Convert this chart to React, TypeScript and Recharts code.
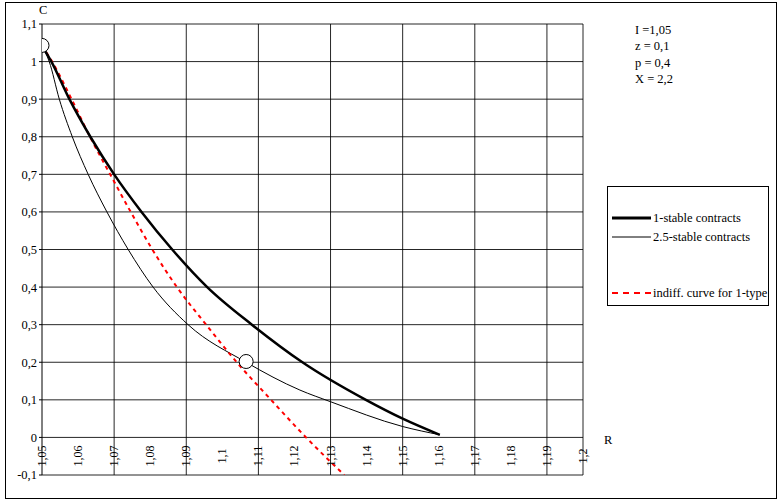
import React from 'react';
import { ComposedChart, Line, Scatter, XAxis, YAxis, CartesianGrid, ReferenceLine, Legend } from 'recharts';

// 1-stable contracts (thick)
const rThick = [1.05, 1.0526, 1.0576, 1.0634, 1.07, 1.0776, 1.0861, 1.0958, 1.1082, 1.1222, 1.1398, 1.15, 1.1603];
const cThick = [1.042, 1.0, 0.9, 0.8, 0.7, 0.6, 0.5, 0.4, 0.3, 0.2, 0.1, 0.05, 0.007];

// 2.5-stable contracts (thin)
const rThin = [1.05, 1.052, 1.0548, 1.0584, 1.0628, 1.068, 1.0739, 1.0808, 1.0905, 1.1066, 1.1215, 1.13, 1.15, 1.1603];
const cThin = [1.042, 1.0, 0.9, 0.8, 0.7, 0.6, 0.5, 0.4, 0.3, 0.2, 0.126, 0.095, 0.029, 0.007];

// indifference curve for 1-type (red dashed)
const rIndiff = [1.05, 1.0528, 1.0582, 1.0633, 1.0689, 1.0746, 1.0806, 1.0874, 1.0955, 1.104, 1.1135, 1.1232, 1.1338];
const cIndiff = [1.042, 1.0, 0.9, 0.8, 0.7, 0.6, 0.5, 0.4, 0.3, 0.2, 0.1, 0.0, -0.1];

// hollow circle markers
const rMarkers = [1.05, 1.1066];
const cMarkers = [1.043, 0.202];

const xTicks = [1.05, 1.06, 1.07, 1.08, 1.09, 1.1, 1.11, 1.12, 1.13, 1.14, 1.15, 1.16, 1.17, 1.18, 1.19, 1.2];
const yTicks = [-0.1, 0, 0.1, 0.2, 0.3, 0.4, 0.5, 0.6, 0.7, 0.8, 0.9, 1.0, 1.1];
const xGrid = [1.07, 1.09, 1.11, 1.13, 1.15, 1.17, 1.19, 1.2];

const paramLines = ['I =1,05', 'z = 0,1', 'p = 0,4', 'X = 2,2'];

const thickData = rThick.map((r, i) => ({ r, c: cThick[i] }));
const thinData = rThin.map((r, i) => ({ r, c: cThin[i] }));
const indiffData = rIndiff.map((r, i) => ({ r, c: cIndiff[i] }));
const markerData = rMarkers.map((r, i) => ({ r, c: cMarkers[i] }));

const FONT = 'Liberation Serif';

const fmt = (v: number) => String(Number(v.toFixed(2))).replace('.', ',');

const XTick = (props: any) => {
  const { x, y, payload } = props;
  const cy = y - 19;
  return (
    <text
      x={x}
      y={cy}
      transform={`rotate(-90, ${x}, ${cy})`}
      textAnchor="middle"
      dominantBaseline="central"
      fontSize={12}
      fontFamily={FONT}
      fill="#000"
    >
      {fmt(payload.value)}
    </text>
  );
};

const MarkerShape = (props: any) => (
  <circle cx={props.cx} cy={props.cy} r={7} fill="#fff" stroke="#000" strokeWidth={1} />
);

const LegendBox = () => (
  <div
    style={{
      width: 160,
      height: 118,
      border: '1px solid #000',
      background: '#fff',
      position: 'relative',
      boxSizing: 'content-box',
    }}
  >
    <svg width={160} height={118} style={{ position: 'absolute', left: 0, top: 0 }}>
      <line x1={4} x2={43} y1={31} y2={31} stroke="#000" strokeWidth={3} />
      <line x1={4} x2={43} y1={50} y2={50} stroke="#000" strokeWidth={1} />
      <line x1={4} x2={43} y1={106} y2={106} stroke="#ff0000" strokeWidth={2} strokeDasharray="6 5" />
      <text x={45} y={31} dominantBaseline="central" fontSize={12.5} fontFamily={FONT} fill="#000">1-stable contracts</text>
      <text x={45} y={50} dominantBaseline="central" fontSize={12.5} fontFamily={FONT} fill="#000">2.5-stable contracts</text>
      <text x={45} y={106} dominantBaseline="central" fontSize={12.5} fontFamily={FONT} fill="#000">indiff. curve for 1-type</text>
    </svg>
  </div>
);

export default function App() {
  return (
    <div style={{ position: 'absolute', left: 0, top: 0, width: 779, height: 501, background: '#fff', fontFamily: FONT, color: '#000' }}>
      <div style={{ position: 'absolute', left: 5, top: 2, width: 772, height: 497, border: '1px solid #000', boxSizing: 'border-box' }} />
      <ComposedChart
        width={779}
        height={501}
        margin={{ top: 24, right: 196, left: 0, bottom: 0 }}
        style={{ position: 'absolute', left: 0, top: 0 }}
      >
        <CartesianGrid vertical={false} stroke="#000" strokeWidth={1} strokeOpacity={0.85} />
        {xGrid.map((g) => (
          <ReferenceLine key={g} x={g} stroke="#000" strokeWidth={1} strokeOpacity={0.85} />
        ))}
        <XAxis
          type="number"
          dataKey="r"
          domain={[1.05, 1.2]}
          ticks={xTicks}
          interval={0}
          axisLine={false}
          tickLine={false}
          tickSize={0}
          tickMargin={0}
          height={26}
          tick={<XTick />}
          allowDataOverflow
        />
        <YAxis
          type="number"
          dataKey="c"
          domain={[-0.1, 1.1]}
          ticks={yTicks}
          interval={0}
          width={42}
          tickSize={3}
          tickMargin={2}
          tickFormatter={fmt}
          axisLine={{ stroke: '#000', strokeWidth: 1 }}
          tickLine={{ stroke: '#000' }}
          tick={{ fontSize: 12.5, fontFamily: FONT, fill: '#000' }}
          allowDataOverflow
        />
        <Legend
          layout="vertical"
          align="center"
          verticalAlign="middle"
          wrapperStyle={{ left: 607, top: 186, width: 162, height: 120 }}
          content={<LegendBox />}
        />
        <Line
          data={thinData}
          dataKey="c"
          name="2.5-stable contracts"
          type="monotone"
          stroke="#000"
          strokeWidth={1}
          dot={false}
          isAnimationActive={false}
        />
        <Line
          data={indiffData}
          dataKey="c"
          name="indiff. curve for 1-type"
          type="monotone"
          stroke="#ff0000"
          strokeWidth={2}
          strokeDasharray="4 4"
          dot={false}
          isAnimationActive={false}
        />
        <Line
          data={thickData}
          dataKey="c"
          name="1-stable contracts"
          type="monotone"
          stroke="#000"
          strokeWidth={2.5}
          dot={false}
          isAnimationActive={false}
        />
        <Scatter data={markerData} dataKey="c" shape={<MarkerShape />} isAnimationActive={false} legendType="none" />
      </ComposedChart>
      <div style={{ position: 'absolute', left: 39, top: 2, fontSize: 12.5, lineHeight: '16px' }}>C</div>
      <div style={{ position: 'absolute', left: 604, top: 432, fontSize: 12.5, lineHeight: '16px' }}>R</div>
      <div style={{ position: 'absolute', left: 635, top: 22, fontSize: 12.5, lineHeight: '16.3px' }}>
        {paramLines.map((t) => (
          <div key={t}>{t}</div>
        ))}
      </div>
    </div>
  );
}
